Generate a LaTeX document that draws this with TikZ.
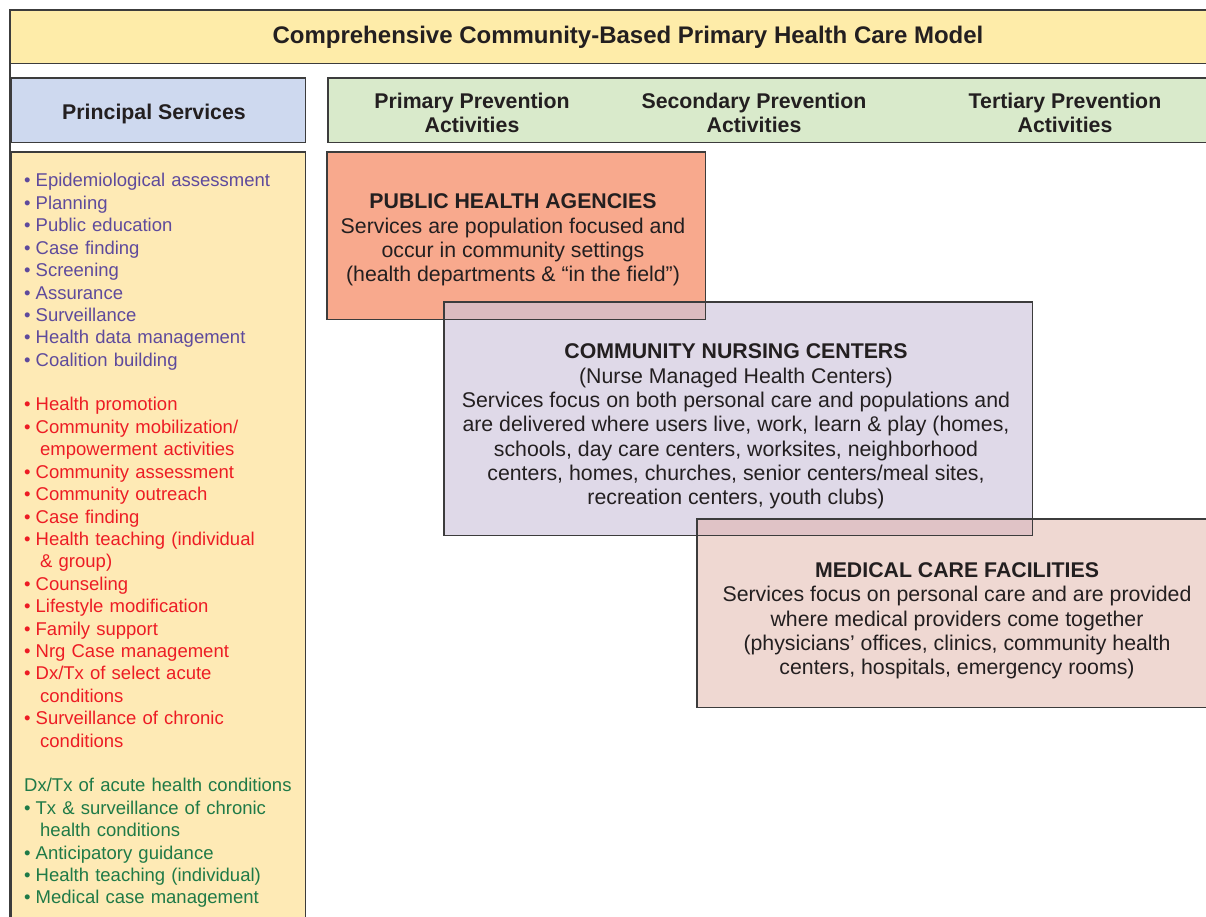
\documentclass[tikz,border=0pt]{standalone}
\usepackage{fontspec}
\setmainfont{Liberation Sans}

\definecolor{ink}{HTML}{231F20}
\definecolor{edgegray}{HTML}{3C3C3C}
\definecolor{titlefill}{HTML}{FEECA9}
\definecolor{princfill}{HTML}{CED9EF}
\definecolor{prevfill}{HTML}{D9EACB}
\definecolor{listfill}{HTML}{FEEAB5}
\definecolor{phfill}{HTML}{F8A98D}
\definecolor{ncfill}{HTML}{DFD9E8}
\definecolor{mcfill}{HTML}{EFD8D2}
\definecolor{ovphnc}{HTML}{DCBBBF}
\definecolor{ovncmc}{HTML}{E0C3C6}
\definecolor{purp}{HTML}{5E4A9C}
\definecolor{redt}{HTML}{ED1C24}
\definecolor{grnt}{HTML}{1F7A47}

\newcommand\bul{\textbullet\hspace{5pt}}
\newcommand\cont{\hspace*{16pt}}

\begin{document}
\begin{tikzpicture}[
  x=1pt,y=-1pt,
  every node/.style={text=ink,font=\fontsize{21.3}{24.3}\selectfont},
  panel/.style={inner sep=0pt,align=center,anchor=north west},
  outline/.style={draw=edgegray,line width=1.2pt},
  head/.style={align=center,font=\bfseries\fontsize{21.3}{24}\selectfont},
  services/.style={align=left,text width=280,inner sep=0pt,anchor=base west,font=\fontsize{18.5}{22.4}\selectfont}
]
\clip (0,0) rectangle (1206,917);
\fill[white] (0,0) rectangle (1206,917);
\draw[outline] (10,10) rectangle (1240,940);

\node[panel,fill=titlefill,minimum width=1236,minimum height=53] (title) at (10,10) {};
\node[panel,fill=princfill,minimum width=294,minimum height=64] (princ) at (11,78) {};
\node[panel,fill=prevfill,minimum width=900,minimum height=64] (prev) at (328,78) {};
\node[panel,fill=listfill,minimum width=294,minimum height=800] (list) at (11,152) {};

\node[font=\bfseries\fontsize{24}{28}\selectfont] (titlelbl) at (628,37) {Comprehensive Community-Based Primary Health Care Model};
\node[head] (princlbl) at (154,113.5) {Principal Services};
\node[head] (prim) at (472,112.5) {Primary Prevention\\Activities};
\node[head] (sec) at (754,112.5) {Secondary Prevention\\Activities};
\node[head] (ter) at (1065,112.5) {Tertiary Prevention\\Activities};

% the three settings, overlapping
\node[panel,fill=phfill,minimum width=378,minimum height=167] (pha) at (327,152) {};
\node[panel,fill=ncfill,minimum width=588,minimum height=233] (ncc) at (444,302) {};
\fill[ovphnc] (ncc.north west) rectangle (pha.south east);
\node[panel,fill=mcfill,minimum width=520,minimum height=188] (mcf) at (697,519) {};
\fill[ovncmc] (mcf.north west) rectangle (ncc.south east);
\foreach \b in {title,princ,prev,list,pha,ncc,mcf}
  \draw[outline] (\b.north west) rectangle (\b.south east);

\node[align=center] (phatxt) at (513,240) {\textbf{PUBLIC HEALTH AGENCIES}\\Services are population focused and\\occur in community settings\\(health departments \& “in the field”)};
\node[align=center] (ncctxt) at (736,426.5) {\textbf{COMMUNITY NURSING CENTERS}\\(Nurse Managed Health Centers)\\Services focus on both personal care and populations and\\are delivered where users live, work, learn \& play (homes,\\schools, day care centers, worksites, neighborhood\\centers, homes, churches, senior centers/meal sites,\\recreation centers, youth clubs)};
\node[align=center] (mcftxt) at (957,621) {\textbf{MEDICAL CARE FACILITIES}\\Services focus on personal care and are provided\\where medical providers come together\\(physicians’ offices, clinics, community health\\centers, hospitals, emergency rooms)};

\node[services] (svc) at (24,187) {\color{purp}\bul Epidemiological assessment\\
\bul Planning\\
\bul Public education\\
\bul Case finding\\
\bul Screening\\
\bul Assurance\\
\bul Surveillance\\
\bul Health data management\\
\bul Coalition building\\
\mbox{}\\
\color{redt}\bul Health promotion\\
\bul Community mobilization/\\
\cont empowerment activities\\
\bul Community assessment\\
\bul Community outreach\\
\bul Case finding\\
\bul Health teaching (individual\\
\cont \& group)\\
\bul Counseling\\
\bul Lifestyle modification\\
\bul Family support\\
\bul Nrg Case management\\
\bul Dx/Tx of select acute\\
\cont conditions\\
\bul Surveillance of chronic\\
\cont conditions\\
\mbox{}\\
\color{grnt}Dx/Tx of acute health conditions\\
\bul Tx \& surveillance of chronic\\
\cont health conditions\\
\bul Anticipatory guidance\\
\bul Health teaching (individual)\\
\bul Medical case management};
\end{tikzpicture}
\end{document}
